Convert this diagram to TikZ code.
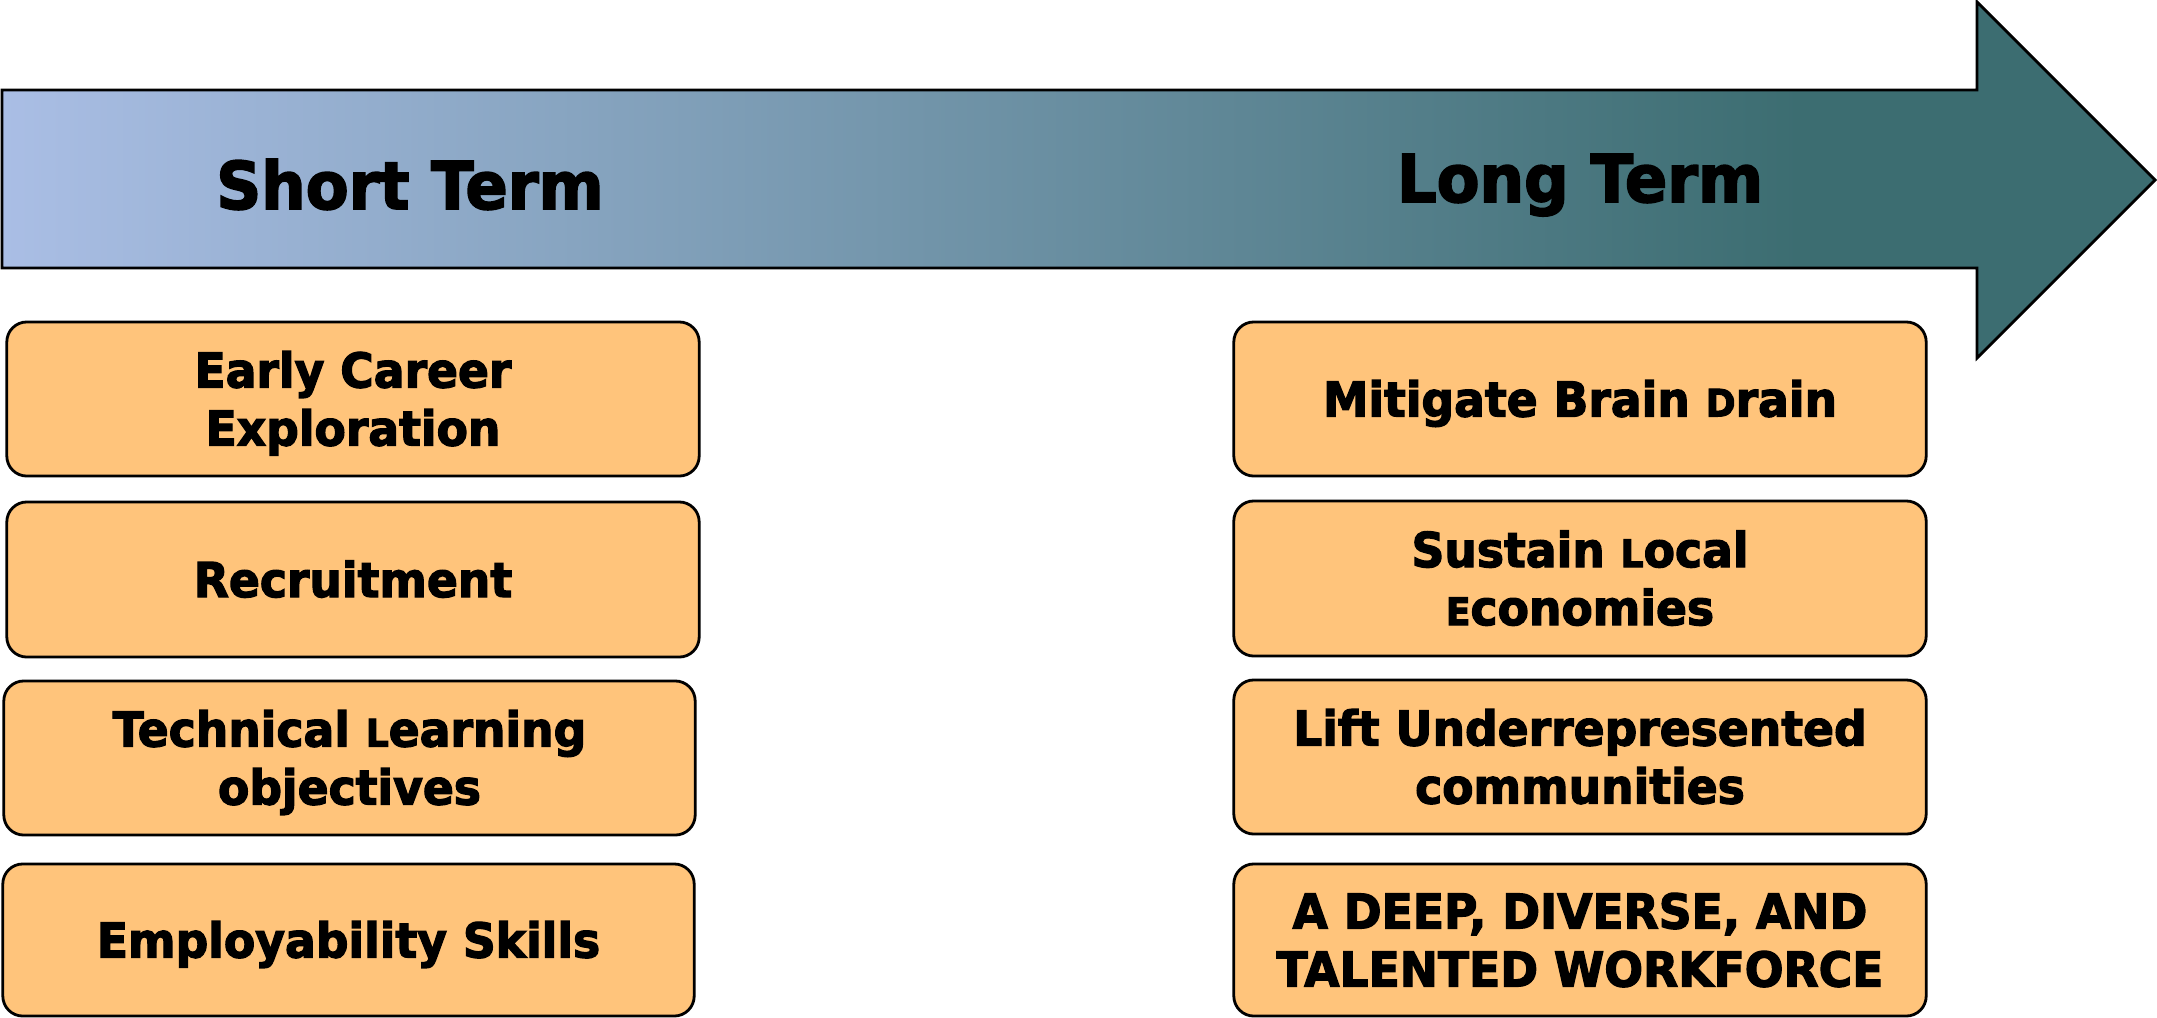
\documentclass[tikz,border=0pt]{standalone}
\usepackage{fontspec}
\newfontfamily\heavyfont{DejaVu Sans Bold}[FakeStretch=0.95,FakeBold=2.6]
\definecolor{boxfill}{HTML}{FFC47B}
\definecolor{arrowlight}{HTML}{AABEE5}
\definecolor{arrowdark}{HTML}{3C6D71}
% smaller capital used inside some words
\newcommand\smcap[1]{{\fontsize{10.8pt}{16.5pt}\selectfont #1}}
% struts that keep the cap-height of the lines centred in each box
\newcommand\hiStrut{\rule{0pt}{0.98em}}
\newcommand\loStrut{\rule[-0.25em]{0pt}{0.25em}}
\begin{document}
\begin{tikzpicture}[x=0.01cm,y=-0.01cm,
  goal/.style={draw=black, line width=0.8pt, fill=boxfill, rounded corners=0.2cm,
    minimum width=6.92cm, minimum height=1.54cm, inner sep=0pt, align=center,
    font=\heavyfont\fontsize{13.66pt}{16.5pt}\selectfont},
  heading/.style={anchor=base, inner sep=0pt,
    font=\heavyfont\fontsize{18.7pt}{22pt}\selectfont}]
\useasboundingbox (0,0) rectangle (2157,1018);

% big timeline arrow
\coordinate (t1) at (2,90);
\coordinate (t2) at (1977,90);
\coordinate (t3) at (1977,2);
\coordinate (t4) at (2155,180);
\coordinate (t5) at (1977,358);
\coordinate (t6) at (1977,268);
\coordinate (t7) at (2,268);
\begin{scope}
  \clip (t1) -- (t2) -- (t3) -- (t4) -- (t5) -- (t6) -- (t7) -- cycle;
  \shade[left color=arrowlight, right color=arrowdark] (0,0) rectangle (1800,360);
  \fill[arrowdark] (1799,0) rectangle (2157,360);
\end{scope}
\draw[line width=0.8pt, line join=miter] (t1) -- (t2) -- (t3) -- (t4) -- (t5) -- (t6) -- (t7) -- cycle;

\node[heading] (short) at (410,209) {Short Term};
\node[heading] (long) at (1580,202) {Long Term};

% short-term outcomes
\node[goal] (s1) at (353,399) {\hiStrut Early Career\\Exploration\loStrut};
\node[goal, minimum height=1.55cm] (s2) at (353,579.5) {\hiStrut Recruitment\loStrut};
\node[goal, minimum width=6.91cm] (s3) at (349.5,758) {\hiStrut Technical \smcap{L}earning\\objectives\loStrut};
\node[goal, minimum width=6.91cm, minimum height=1.52cm] (s4) at (348.5,940) {\hiStrut Employability Skills\loStrut};

% long-term outcomes
\node[goal] (l1) at (1580,399) {\hiStrut Mitigate Brain \smcap{D}rain\loStrut};
\node[goal, minimum height=1.55cm] (l2) at (1580,578.5) {\hiStrut Sustain \smcap{L}ocal\\\smcap{E}conomies\loStrut};
\node[goal] (l3) at (1580,757) {\hiStrut Lift Underrepresented\\communities\loStrut};
\node[goal, minimum height=1.52cm] (l4) at (1580,940) {\hiStrut A DEEP, DIVERSE, AND\\TALENTED WORKFORCE\loStrut};
\end{tikzpicture}
\end{document}
